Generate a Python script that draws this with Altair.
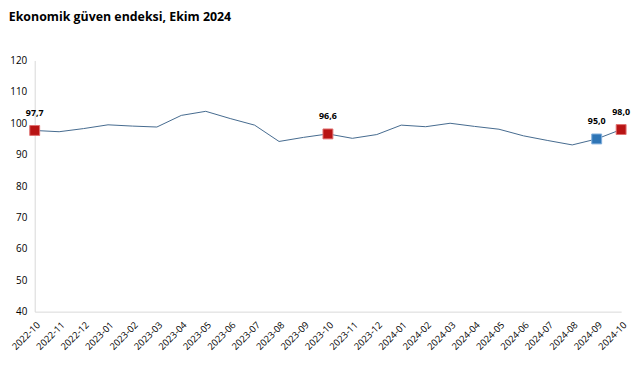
import altair as alt
import pandas as pd

months = ["2022-10","2022-11","2022-12","2023-01","2023-02","2023-03","2023-04","2023-05",
          "2023-06","2023-07","2023-08","2023-09","2023-10","2023-11","2023-12","2024-01",
          "2024-02","2024-03","2024-04","2024-05","2024-06","2024-07","2024-08","2024-09","2024-10"]
values = [97.7, 97.3, 98.3, 99.5, 99.1, 98.8, 102.5, 103.8, 101.5, 99.4, 94.2, 95.5, 96.6,
          95.2, 96.4, 99.4, 98.9, 100.0, 99.0, 98.1, 96.0, 94.5, 93.1, 95.0, 98.0]

hl_months = ["2022-10", "2023-10", "2024-09", "2024-10"]
hl_values = [97.7, 96.6, 95.0, 98.0]
hl_labels = ["97,7", "96,6", "95,0", "98,0"]
hl_kind = ["red", "red", "blue", "red"]

df = pd.DataFrame({"month": months, "value": values})
hl = pd.DataFrame({"month": hl_months, "value": hl_values, "label": hl_labels, "kind": hl_kind})

x = alt.X("month:O", sort=months, title=None,
          scale=alt.Scale(type="point", padding=0),
          axis=alt.Axis(labelAngle=-45, labelFontSize=9.5, labelColor="#000000",
                        ticks=False, domainColor="#D9D9D9", labelPadding=8,
                        labelFont="Open Sans"))
y = alt.Y("value:Q", title=None,
          scale=alt.Scale(domain=[40, 120], nice=False, zero=False),
          axis=alt.Axis(values=list(range(40, 121, 10)), grid=False, ticks=False,
                        domainColor="#D9D9D9", labelFontSize=10, labelColor="#000000",
                        labelPadding=8, labelFont="Open Sans"))

line = alt.Chart(df).mark_line(color="#44698E", strokeWidth=1).encode(x=x, y=y)

pts = alt.Chart(hl).mark_point(shape="square", size=100, filled=True, opacity=1,
                               strokeWidth=1).encode(
    x=x, y=y,
    fill=alt.Fill("kind:N", scale=alt.Scale(domain=["red", "blue"], range=["#B81414", "#2E75B6"]), legend=None),
    stroke=alt.Stroke("kind:N", scale=alt.Scale(domain=["red", "blue"], range=["#E07070", "#7FAEDC"]), legend=None),
)

labels = alt.Chart(hl).mark_text(dy=-18, fontSize=9, fontWeight="bold", font="Open Sans",
                                 color="#000000").encode(x=x, y=y, text="label:N")

chart = (line + pts + labels).properties(
    width=593, height=254,
    title=alt.TitleParams("Ekonomik güven endeksi, Ekim 2024", anchor="start", dx=-1,
                          offset=32, fontSize=12.5, fontWeight="bold", font="Open Sans",
                          color="#000000"),
    autosize=alt.AutoSizeParams(type="none"),
    padding={"left": 27, "top": 51, "right": 12, "bottom": 60},
).configure_view(stroke=None)

chart.save("out.html", embed_options={"renderer": "svg", "actions": False})
